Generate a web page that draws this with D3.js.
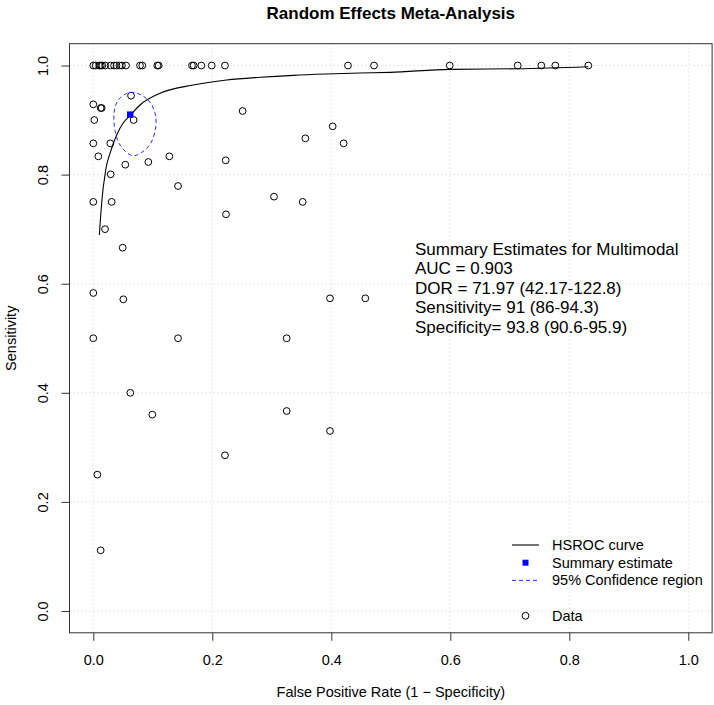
<!DOCTYPE html>
<html><head><meta charset="utf-8">
<script src="https://cdn.jsdelivr.net/npm/d3@7"></script>
<style>body{margin:0;background:#fff;}svg{display:block;font-family:"Liberation Sans",Arial,Helvetica,sans-serif;}</style>
</head><body>
<svg id="c" width="714" height="705"></svg>
<script>
// Study data: false positive rate and sensitivity
const dataFPR = [0,0.004,0.010,0.0125,0.015,0.020,0.029,0.035,0.039,0.044,0.048,0.055,0.0785,0.0824,0.1076,0.1099,0.1659,0.1687,0.1815,0.199,0.2213,0.428,0.4718,0.599,0.7133,0.753,0.7765,0.832,
  0.0634,0,0.0124,0.0141,0.0017,0.0678,0.251,0,0.0286,0.0085,0.0538,0.0925,0.1278,0.2225,0.3564,0.4023,0.4208,0.0292,
  0.1424,0,0.0309,0.3037,0.3519,0.223,0.0197,0.0494,0,0.0505,0,0.1424,0.325,0.3978,0.4572,
  0.0622,0.0992,0.325,0.2213,0.0068,0.0124,0.3978];
const dataSens = [1,1,1,1,1,1,1,1,1,1,1,1,1,1,1,1,1,1,1,1,1,1,1,1,1,1,1,1,
  0.9447,0.9288,0.9221,0.9221,0.9001,0.9001,0.9166,0.8573,0.8573,0.8335,0.8182,0.8231,0.8335,0.8262,0.8665,0.8885,0.8573,0.8005,
  0.7791,0.75,0.75,0.7596,0.75,0.7272,0.70,0.666,0.583,0.5714,0.50,0.50,0.50,0.5732,0.5732,
  0.40,0.36,0.3666,0.2854,0.25,0.1112,0.33];
// HSROC curve
const curveFPR  = [0.0101,0.0141,0.0168,0.0185,0.0208,0.0281,0.0393,0.0504,0.0606,0.0785,0.1121,0.1681,0.2242,0.2802,0.3361,0.3923,0.4482,0.4987,0.599,0.7133,0.832];
const curveSens = [0.6893,0.7474,0.7778,0.7901,0.8084,0.839,0.8726,0.8951,0.9068,0.9276,0.949,0.9643,0.9734,0.9784,0.982,0.9844,0.9862,0.9875,0.993,0.9941,0.9978];
// 95% confidence region outline
const ellFPR  = [0.0645,0.0919,0.1054,0.0953,0.0672,0.0432,0.0348,0.0432];
const ellSens = [0.9509,0.9368,0.9032,0.8555,0.8347,0.8574,0.9124,0.9385];
// Summary estimate
const summaryFPR = [0.062];
const summarySens = [0.91];
const tickValues = [0,0.2,0.4,0.6,0.8,1.0];
const tickLabels = ["0.0","0.2","0.4","0.6","0.8","1.0"];
const summaryLines = ["Summary Estimates for Multimodal","AUC = 0.903","DOR = 71.97 (42.17-122.8)","Sensitivity= 91 (86-94.3)","Specificity= 93.8 (90.6-95.9)"];
const legendLabels = ["HSROC curve","Summary estimate","95% Confidence region","","Data"];
const titleText = "Random Effects Meta-Analysis";
const xTitle = "False Positive Rate (1 \u2212 Specificity)";
const yTitle = "Sensitivity";

const svg = d3.select("#c");
const L=69.5, R=712.1, T=43.7, B=632.8;
const x = d3.scaleLinear().domain([-0.04,1.04]).range([L,R]);
const y = d3.scaleLinear().domain([-0.04,1.04]).range([B,T]);

// grid
const g = svg.append("g");
g.selectAll(".gx").data(tickValues).enter().append("line")
  .attr("x1",d=>x(d)).attr("x2",d=>x(d)).attr("y1",T).attr("y2",B)
  .attr("stroke","#d0d0d0").attr("stroke-dasharray","1,3").attr("stroke-width",1);
g.selectAll(".gy").data(tickValues).enter().append("line")
  .attr("y1",d=>y(d)).attr("y2",d=>y(d)).attr("x1",L).attr("x2",R)
  .attr("stroke","#d0d0d0").attr("stroke-dasharray","1,3").attr("stroke-width",1);

// axes
const fmt = (d,i)=>tickLabels[i];
const xa = svg.append("g").attr("transform",`translate(0,${B})`)
  .call(d3.axisBottom(x).tickValues(tickValues).tickFormat(fmt).tickSize(8).tickPadding(11));
const ya = svg.append("g").attr("transform",`translate(${L},0)`)
  .call(d3.axisLeft(y).tickValues(tickValues).tickFormat(fmt).tickSize(8).tickPadding(11));
[xa,ya].forEach(a=>{a.select(".domain").remove();a.selectAll("line").attr("stroke","#333");
  a.selectAll("text").attr("font-size","14.5px").attr("fill","#000").attr("font-family","Liberation Sans, Arial, sans-serif");});
ya.selectAll("text").attr("text-anchor","middle").attr("dy",null).attr("dominant-baseline","central")
  .attr("x",0).attr("y",0).attr("transform","translate(-27,0) rotate(-90)");
xa.selectAll("text").attr("dy",null).attr("y",27).attr("dominant-baseline","central");

// box
svg.append("rect").attr("x",L).attr("y",T).attr("width",R-L).attr("height",B-T)
  .attr("fill","none").attr("stroke","#333").attr("stroke-width",1);

// data points
const pts = dataFPR.map((d,i)=>({fx:d,s:dataSens[i]}));
svg.append("g").selectAll("circle").data(pts).enter().append("circle")
  .attr("cx",d=>x(d.fx)).attr("cy",d=>y(d.s)).attr("r",3.4)
  .attr("fill","none").attr("stroke","#000").attr("stroke-width",1);

// HSROC curve
const cpts = curveFPR.map((d,i)=>[d,curveSens[i]]);
svg.append("path").datum(cpts)
  .attr("d",d3.line().x(d=>x(d[0])).y(d=>y(d[1])).curve(d3.curveMonotoneX))
  .attr("fill","none").attr("stroke","#000").attr("stroke-width",1.1);

// Confidence region
const epts = ellFPR.map((d,i)=>[d,ellSens[i]]);
svg.append("path").datum(epts)
  .attr("d",d3.line().x(d=>x(d[0])).y(d=>y(d[1])).curve(d3.curveCatmullRomClosed.alpha(0.5)))
  .attr("fill","none").attr("stroke","#2b2bff").attr("stroke-width",1).attr("stroke-dasharray","4,3");

// summary point
svg.append("g").selectAll("rect").data(summaryFPR.map((d,i)=>[d,summarySens[i]])).enter().append("rect")
  .attr("x",d=>x(d[0])-3.2).attr("y",d=>y(d[1])-3.2).attr("width",6.4).attr("height",6.4).attr("fill","#0000ff");

// summary text
svg.append("g").selectAll("text").data(summaryLines).enter().append("text")
  .attr("x",415).attr("y",(d,i)=>249+i*19.5).attr("dominant-baseline","central")
  .attr("font-size","17px").attr("fill","#000").text(d=>d);

// legend
const lg = svg.append("g");
const ly = i=>545+i*17.7;
lg.selectAll("text").data(legendLabels).enter().append("text")
  .attr("x",552).attr("y",(d,i)=>ly(i)).attr("dominant-baseline","central")
  .attr("font-size","14.5px").attr("fill","#000").text(d=>d);
lg.append("line").attr("x1",512).attr("x2",539).attr("y1",ly(0)).attr("y2",ly(0)).attr("stroke","#000").attr("stroke-width",1.1);
lg.append("rect").attr("x",525.5-3).attr("y",ly(1)-3).attr("width",6).attr("height",6).attr("fill","#0000ff");
lg.append("line").attr("x1",512).attr("x2",539).attr("y1",ly(2)).attr("y2",ly(2)).attr("stroke","#2b2bff").attr("stroke-width",1).attr("stroke-dasharray","4,3");
lg.append("circle").attr("cx",525.5).attr("cy",ly(4)).attr("r",3.4).attr("fill","none").attr("stroke","#000");

// titles
svg.append("text").attr("x",(L+R)/2).attr("y",13).attr("text-anchor","middle").attr("dominant-baseline","central")
  .attr("font-size","17px").attr("font-weight","bold").text(titleText);
svg.append("text").attr("x",(L+R)/2).attr("y",692).attr("text-anchor","middle").attr("dominant-baseline","central")
  .attr("font-size","14.5px").text(xTitle);
svg.append("text").attr("transform",`translate(11,${(T+B)/2}) rotate(-90)`).attr("text-anchor","middle").attr("dominant-baseline","central")
  .attr("font-size","14.5px").text(yTitle);
</script>
</body></html>
